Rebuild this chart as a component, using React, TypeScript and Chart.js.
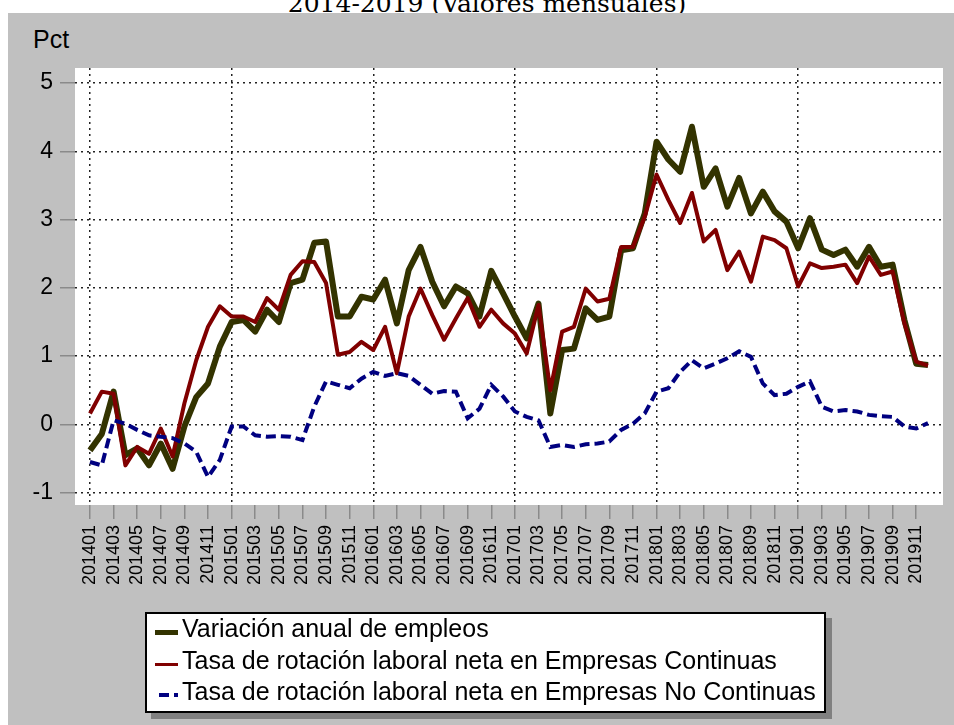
import React, { useEffect, useRef } from 'react';
import { Chart, registerables } from 'chart.js';

Chart.register(...registerables);

// ---- data ----
const months = [
  '201401','201402','201403','201404','201405','201406','201407','201408','201409','201410','201411','201412',
  '201501','201502','201503','201504','201505','201506','201507','201508','201509','201510','201511','201512',
  '201601','201602','201603','201604','201605','201606','201607','201608','201609','201610','201611','201612',
  '201701','201702','201703','201704','201705','201706','201707','201708','201709','201710','201711','201712',
  '201801','201802','201803','201804','201805','201806','201807','201808','201809','201810','201811','201812',
  '201901','201902','201903','201904','201905','201906','201907','201908','201909','201910','201911','201912',
];

const variacionEmpleos = [
  -0.38, -0.14, 0.48, -0.45, -0.35, -0.6, -0.28, -0.65, -0.03, 0.4, 0.6, 1.14,
  1.5, 1.53, 1.36, 1.68, 1.5, 2.07, 2.12, 2.66, 2.68, 1.58, 1.58, 1.87,
  1.83, 2.12, 1.48, 2.26, 2.6, 2.09, 1.73, 2.02, 1.92, 1.58, 2.25, 1.92,
  1.58, 1.26, 1.77, 0.16, 1.09, 1.11, 1.7, 1.53, 1.58, 2.55, 2.58, 3.09,
  4.14, 3.88, 3.7, 4.36, 3.48, 3.75, 3.19, 3.61, 3.09, 3.41, 3.12, 2.97,
  2.58, 3.02, 2.56, 2.48, 2.56, 2.31, 2.6, 2.31, 2.34, 1.53, 0.89, 0.87,
];

const rotacionContinuas = [
  0.16, 0.48, 0.45, -0.6, -0.33, -0.43, -0.06, -0.47, 0.31, 0.94, 1.43, 1.73,
  1.58, 1.58, 1.5, 1.85, 1.68, 2.19, 2.39, 2.38, 2.07, 1.02, 1.06, 1.21,
  1.09, 1.43, 0.75, 1.58, 1.99, 1.6, 1.24, 1.55, 1.85, 1.43, 1.68, 1.48,
  1.33, 1.04, 1.75, 0.5, 1.36, 1.43, 1.99, 1.8, 1.84, 2.6, 2.6, 3.04,
  3.66, 3.29, 2.95, 3.39, 2.68, 2.85, 2.26, 2.53, 2.09, 2.75, 2.7, 2.58,
  2.02, 2.36, 2.29, 2.31, 2.34, 2.07, 2.46, 2.19, 2.24, 1.48, 0.92, 0.86,
];

const rotacionNoContinuas = [
  -0.55, -0.6, 0.06, 0.01, -0.08, -0.16, -0.18, -0.2, -0.28, -0.4, -0.77, -0.52,
  -0.03, -0.03, -0.16, -0.18, -0.17, -0.18, -0.23, 0.26, 0.63, 0.58, 0.53, 0.67,
  0.77, 0.71, 0.75, 0.71, 0.58, 0.45, 0.49, 0.48, 0.09, 0.23, 0.58, 0.41,
  0.19, 0.11, 0.06, -0.33, -0.3, -0.33, -0.29, -0.28, -0.25, -0.08, 0.01, 0.16,
  0.48, 0.53, 0.77, 0.94, 0.82, 0.89, 0.97, 1.07, 0.99, 0.6, 0.43, 0.45,
  0.55, 0.63, 0.26, 0.19, 0.21, 0.19, 0.14, 0.12, 0.11, -0.03, -0.06, 0.02,
];

const yTickValues = [-1, 0, 1, 2, 3, 4, 5];

const seriesNames = [
  'Variación anual de empleos',
  'Tasa de rotación laboral neta en Empresas Continuas',
  'Tasa de rotación laboral neta en Empresas No Continuas',
];

const seriesColors = ['#333300', '#800000', '#000080'];

const titleText = '2014-2019 (Valores mensuales)';
const yUnit = 'Pct';

const SANS = '"Liberation Sans", Arial, sans-serif';

const whiteArea = {
  id: 'whiteArea',
  beforeDraw(chart: any) {
    const { ctx, chartArea } = chart;
    ctx.save();
    ctx.fillStyle = '#ffffff';
    ctx.fillRect(chartArea.left, chartArea.top, chartArea.right - chartArea.left, chartArea.bottom - chartArea.top);
    ctx.restore();
  },
};

function LegendSwatch({ idx }: { idx: number }) {
  if (idx === 0) {
    return <div style={{ position: 'absolute', left: 8, top: 17, width: 23, height: 5, background: seriesColors[0] }} />;
  }
  if (idx === 1) {
    return <div style={{ position: 'absolute', left: 8, top: 18, width: 23, height: 3, background: seriesColors[1] }} />;
  }
  return (
    <>
      <div style={{ position: 'absolute', left: 12, top: 17, width: 10, height: 4, background: seriesColors[2] }} />
      <div style={{ position: 'absolute', left: 27, top: 17, width: 4, height: 4, background: seriesColors[2] }} />
    </>
  );
}

export default function App() {
  const canvasRef = useRef<HTMLCanvasElement | null>(null);

  useEffect(() => {
    if (!canvasRef.current) return;
    const toPts = (arr: number[]) => arr.map((v, i) => ({ x: i, y: v }));
    const chart = new Chart(canvasRef.current, {
      type: 'line',
      data: {
        datasets: [
          {
            label: seriesNames[0],
            data: toPts(variacionEmpleos),
            borderColor: seriesColors[0],
            borderWidth: 6,
            pointRadius: 0,
            tension: 0,
            borderJoinStyle: 'round',
            order: 3,
          },
          {
            label: seriesNames[1],
            data: toPts(rotacionContinuas),
            borderColor: seriesColors[1],
            borderWidth: 4,
            pointRadius: 0,
            tension: 0,
            borderJoinStyle: 'round',
            order: 2,
          },
          {
            label: seriesNames[2],
            data: toPts(rotacionNoContinuas),
            borderColor: seriesColors[2],
            borderWidth: 4,
            borderDash: [10, 5],
            pointRadius: 0,
            tension: 0,
            order: 1,
          },
        ],
      },
      options: {
        animation: false,
        responsive: false,
        maintainAspectRatio: false,
        devicePixelRatio: 1,
        layout: { padding: { top: 68, right: 11, bottom: 0, left: 0 } },
        plugins: {
          legend: { display: false },
          tooltip: { enabled: false },
          title: { display: false },
        },
        scales: {
          x: {
            type: 'linear',
            min: -1.27,
            max: 72.27,
            afterBuildTicks: (s: any) => {
              s.ticks = months.map((_, i) => ({ value: i })).filter((t) => t.value % 2 === 0);
            },
            afterFit: (s: any) => {
              s.height = 220;
              s.paddingLeft = 0;
              s.paddingRight = 0;
            },
            ticks: {
              autoSkip: false,
              minRotation: 90,
              maxRotation: 90,
              padding: 6,
              color: '#000',
              font: { family: SANS, size: 18 },
              callback: (v: any) => months[Math.round(Number(v))] ?? '',
            },
            grid: {
              color: (c: any) => (c.tick && c.tick.value % 12 === 0 ? '#222' : 'rgba(0,0,0,0)'),
              lineWidth: 1.5,
              tickColor: '#8a8a8a',
              tickLength: 14,
              tickWidth: 1.5,
              tickBorderDash: [],
            },
            border: { display: false, dash: [2, 4] },
          },
          y: {
            min: -1.18,
            max: 5.22,
            afterBuildTicks: (s: any) => {
              s.ticks = yTickValues.map((v) => ({ value: v }));
            },
            afterFit: (s: any) => {
              s.width = 75;
              s.paddingTop = 0;
              s.paddingBottom = 0;
            },
            ticks: {
              padding: 7,
              color: '#000',
              font: { family: SANS, size: 23 },
              callback: (v: any) => String(v),
            },
            grid: {
              color: '#222',
              lineWidth: 1.5,
              tickColor: '#8a8a8a',
              tickLength: 15,
              tickWidth: 1.5,
              tickBorderDash: [],
            },
            border: { display: false, dash: [2, 4] },
          },
        },
      } as any,
      plugins: [whiteArea],
    });
    return () => chart.destroy();
  }, []);

  return (
    <div style={{ position: 'absolute', left: 0, top: 0, width: 954, height: 725, overflow: 'hidden', background: '#fff' }}>
      <div
        style={{
          position: 'absolute',
          left: 0,
          top: -9,
          width: 974,
          textAlign: 'center',
          fontFamily: '"DejaVu Serif", Georgia, serif',
          fontSize: 25,
          lineHeight: '25px',
          color: '#000',
          whiteSpace: 'nowrap',
        }}
      >
        {titleText}
      </div>
      <div style={{ position: 'absolute', left: 8, top: 13, width: 946, height: 712, background: '#c0c0c0' }} />
      <div
        style={{
          position: 'absolute',
          left: 33,
          top: 27,
          fontFamily: SANS,
          fontSize: 25,
          lineHeight: '25px',
          color: '#000',
        }}
      >
        {yUnit}
      </div>
      <canvas
        ref={canvasRef}
        width={954}
        height={725}
        style={{ position: 'absolute', left: 0, top: 0, width: 954, height: 725, display: 'block' }}
      />
      <div
        style={{
          position: 'absolute',
          left: 145,
          top: 612,
          width: 677,
          height: 97,
          background: '#fff',
          border: '2px solid #000',
          boxShadow: '6px 6px 0 #808080',
        }}
      >
        {seriesNames.map((name, i) => (
          <div key={i} style={{ position: 'absolute', left: 0, top: -1 + i * 31.5, width: 677, height: 31 }}>
            <LegendSwatch idx={i} />
            <div
              style={{
                position: 'absolute',
                left: 35,
                top: 0,
                fontFamily: SANS,
                fontSize: 25,
                lineHeight: '31px',
                color: '#000',
                whiteSpace: 'nowrap',
              }}
            >
              {name}
            </div>
          </div>
        ))}
      </div>
    </div>
  );
}
